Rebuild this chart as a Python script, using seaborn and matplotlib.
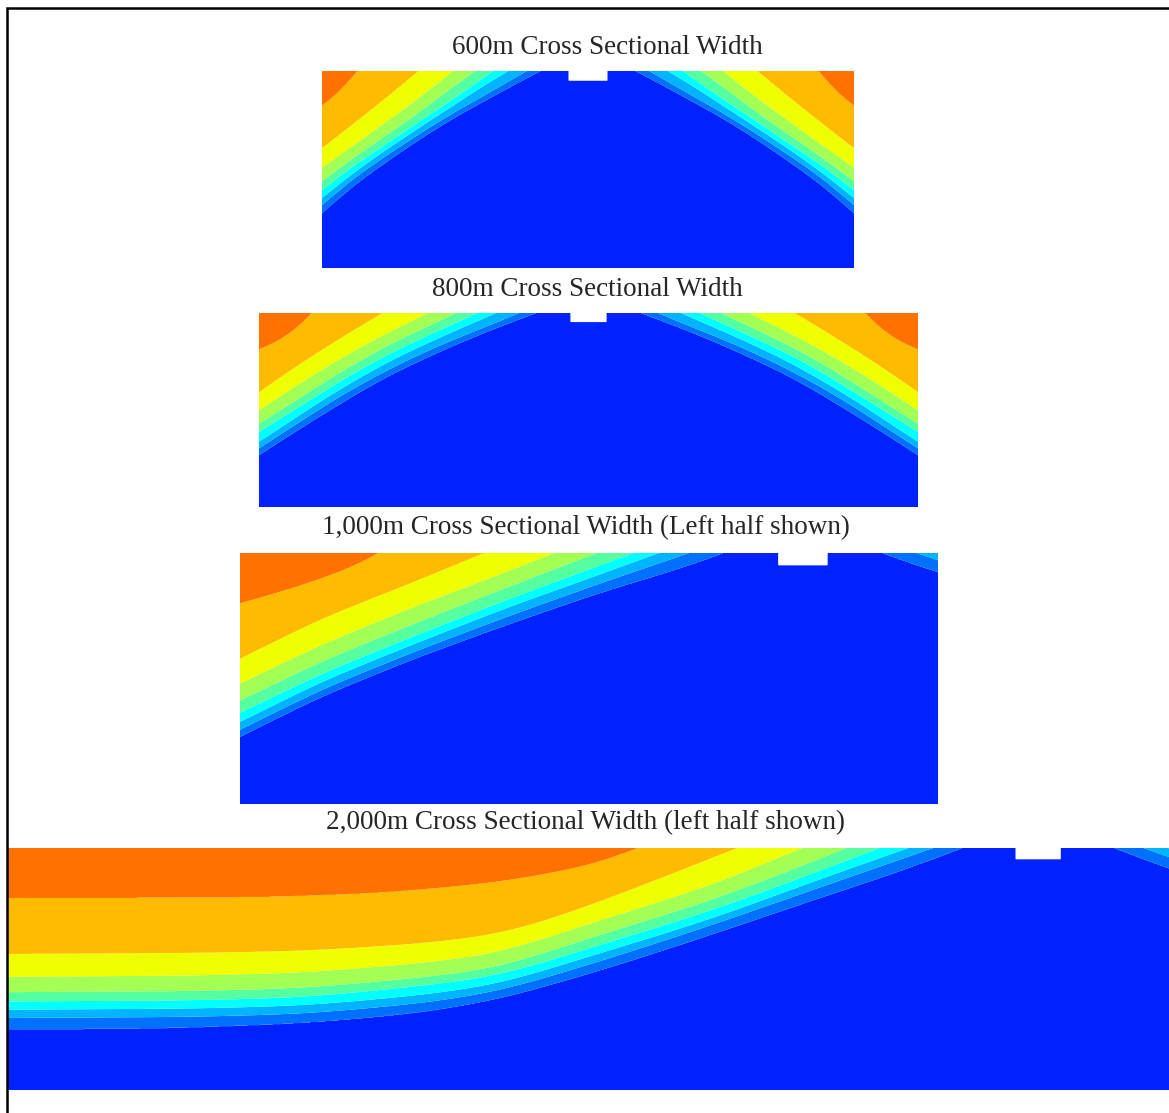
import numpy as np
import matplotlib
matplotlib.use("Agg")
import matplotlib.pyplot as plt
from matplotlib.patches import Rectangle
import seaborn as sns

sns.set_theme(style="white")
plt.rcParams["font.family"] = ["Liberation Serif", "DejaVu Serif"]

# Band colours, lowest value (deep blue) to highest (orange)
BAND_COLORS = ["#0022ff", "#0070ff", "#00b4ff", "#00ffff", "#55ff9f",
               "#a4ff55", "#f0ff00", "#ffbb00", "#ff7100"]

TITLES = ["600m Cross Sectional Width",
          "800m Cross Sectional Width",
          "1,000m Cross Sectional Width (Left half shown)",
          "2,000m Cross Sectional Width (left half shown)"]

# Section geometry (m): shown width, depth, symmetry axis
SHOWN_WIDTH = [600, 800, 620, 1127]
SECTION_DEPTH = [222, 235, 223, 235]
SYMMETRY_AXIS = [300, 400, 500, 1000]
NOTCH_WIDTH = 44
NOTCH_DEPTH = 11

# Contour boundaries of the left half, shallowest (orange edge) to deepest
# (blue edge): horizontal position x (m) and depth d (m) along each line.
W600_X = [[41, 32, 17, 0],
          [109, 73, 35, 0],
          [148, 111, 73, 35, 0],
          [173, 148, 111, 73, 35, 0],
          [193, 148, 111, 73, 35, 0],
          [210, 186, 148, 111, 73, 35, 0],
          [231, 186, 148, 111, 73, 35, 0],
          [246, 223, 186, 148, 111, 73, 35, 0]]
W600_D = [[0, 12, 29, 40],
          [0, 30, 60, 87],
          [0, 29, 57, 84, 109],
          [0, 17, 46, 72, 98, 124],
          [0, 32, 56, 82, 107, 134],
          [0, 14, 39, 63, 88, 115, 143],
          [0, 26, 47, 70, 95, 121, 151],
          [0, 12, 32, 53, 76, 102, 129, 160]]

W800_X = [[67, 57, 37, 17, 0],
          [150, 118, 77, 37, 0],
          [205, 158, 118, 77, 37, 0],
          [239, 199, 158, 118, 77, 37, 0],
          [265, 239, 199, 158, 118, 77, 37, 0],
          [288, 239, 199, 158, 118, 77, 37, 0],
          [316, 280, 239, 199, 158, 118, 77, 37, 0],
          [336, 280, 239, 199, 158, 118, 77, 37, 0]]
W800_D = [[0, 13, 29, 39, 45],
          [0, 19, 44, 70, 96],
          [0, 23, 44, 68, 93, 118],
          [0, 19, 38, 60, 85, 111, 134],
          [0, 12, 30, 49, 71, 96, 121, 144],
          [0, 21, 39, 58, 81, 105, 132, 156],
          [0, 15, 31, 48, 68, 89, 114, 140, 164],
          [0, 21, 38, 56, 75, 98, 123, 148, 172]]

W1000_X = [[124, 105, 73, 32, 0],
           [217, 154, 73, 0],
           [279, 236, 154, 73, 0],
           [317, 236, 154, 73, 0],
           [350, 317, 236, 154, 73, 0],
           [372, 317, 236, 154, 73, 0],
           [399, 317, 236, 154, 73, 0],
           [429, 399, 317, 236, 154, 73, 0]]
W1000_D = [[0, 11, 23, 36, 45],
           [0, 26, 58, 94],
           [0, 17, 48, 81, 116],
           [0, 31, 63, 96, 131],
           [0, 12, 42, 74, 107, 142],
           [0, 20, 49, 81, 114, 150],
           [0, 28, 57, 88, 121, 157],
           [0, 11, 36, 64, 94, 127, 163]]

W2000_X = [[0, 250, 364, 474, 574, 613],
           [0, 180, 290, 400, 475, 525, 575, 645, 708],
           [0, 180, 289, 401, 475, 575, 680, 771],
           [0, 180, 289, 401, 475, 575, 680, 786, 814],
           [0, 180, 289, 401, 475, 575, 680, 786, 846],
           [0, 180, 289, 401, 475, 575, 680, 786, 874],
           [0, 180, 289, 401, 475, 575, 680, 786, 874, 898],
           [0, 150, 289, 401, 475, 575, 680, 786, 874, 926]]
W2000_D = [[49, 48, 44, 34, 16.5, 0],
           [103, 102, 100, 93, 85, 70, 52, 25, 0],
           [125, 124, 121, 112, 103, 70, 37.5, 0],
           [140, 139, 136, 126, 117, 84, 52, 11.6, 0],
           [149, 148, 145, 134, 125, 94, 62, 23, 0],
           [157, 156, 153, 143, 133, 102, 70, 31, 0],
           [165, 164, 161, 151, 140, 110, 76, 39, 8.4, 0],
           [176, 175, 170, 160, 147.5, 119, 85, 49, 20, 0]]

BOUNDARY_X = [W600_X, W800_X, W1000_X, W2000_X]
BOUNDARY_D = [W600_D, W800_D, W1000_D, W2000_D]

# Axes placement in pixels of the 1169 x 1113 canvas: left, top, right, bottom
PANEL_BOX = [(322, 71, 854, 268), (259, 313, 918, 507),
             (240, 553, 938, 804), (8, 848, 1169, 1090)]
TITLE_POS = [(607, 48), (587, 290), (586, 528), (586, 823)]

W_PX, H_PX = 1169, 1113


def extrap_interp(u, xs, ds):
    """Linear interpolation that continues the end segments outward."""
    xs = np.asarray(xs, float)
    ds = np.asarray(ds, float)
    o = np.argsort(xs)
    xs, ds = xs[o], ds[o]
    d = np.interp(u, xs, ds)
    lo, hi = u < xs[0], u > xs[-1]
    s0 = (ds[1] - ds[0]) / (xs[1] - xs[0])
    s1 = (ds[-1] - ds[-2]) / (xs[-1] - xs[-2])
    d[lo] = ds[0] + s0 * (u[lo] - xs[0])
    d[hi] = ds[-1] + s1 * (u[hi] - xs[-1])
    return d


def smooth_line(xs, ds, u, sigma):
    """Boundary depth on grid u, rounded off with a gaussian along x."""
    step = u[1] - u[0]
    k = int(np.ceil(3 * sigma / step))
    up = np.r_[u[0] - step * np.arange(k, 0, -1), u, u[-1] + step * np.arange(1, k + 1)]
    d = extrap_interp(up, xs, ds)
    kern = np.exp(-0.5 * (np.arange(-k, k + 1) * step / sigma) ** 2)
    kern /= kern.sum()
    return np.convolve(d, kern, mode="valid")


def band_field(xg, dg, xs_list, ds_list, axis_x, sigma):
    """Field whose integer levels sit on the given boundary lines."""
    u = np.linspace(0, axis_x, int(axis_x * 2) + 1)
    xm = np.minimum(xg, 2 * axis_x - xg)  # mirror the right half
    depths = [np.interp(xm, u, smooth_line(xs, ds, u, sigma))
              for xs, ds in zip(xs_list, ds_list)]
    D = np.sort(np.array(depths), axis=0)
    n = D.shape[0]
    vals = np.r_[n + 1, np.arange(n, 0, -1), 0].astype(float)
    Z = np.empty((dg.size, xg.size))
    for j in range(xg.size):
        Z[:, j] = np.interp(dg, np.r_[-1e4, D[:, j], 1e4], vals)
    return Z


fig = plt.figure(figsize=(W_PX / 100, H_PX / 100), dpi=100)

for i in range(4):
    l, t, r, b = PANEL_BOX[i]
    ax = fig.add_axes([l / W_PX, 1 - b / H_PX, (r - l) / W_PX, (b - t) / H_PX])
    xg = np.linspace(0, SHOWN_WIDTH[i], int(SHOWN_WIDTH[i] * 2) + 1)
    dg = np.linspace(0, SECTION_DEPTH[i], int(SECTION_DEPTH[i] * 2) + 1)
    sigma = 0.03 * SHOWN_WIDTH[i]
    Z = band_field(xg, dg, BOUNDARY_X[i], BOUNDARY_D[i], SYMMETRY_AXIS[i], sigma)
    notch = (dg[:, None] < NOTCH_DEPTH) & \
            (np.abs(xg[None, :] - SYMMETRY_AXIS[i]) < NOTCH_WIDTH / 2)
    Z = np.ma.masked_where(notch, Z)
    ax.contourf(xg, dg, Z, levels=np.arange(0, len(BAND_COLORS) + 1),
                colors=BAND_COLORS, antialiased=True)
    ax.set_xlim(0, SHOWN_WIDTH[i])
    ax.set_ylim(SECTION_DEPTH[i], 0)
    ax.axis("off")
    tx, ty = TITLE_POS[i]
    fig.text(tx / W_PX, 1 - ty / H_PX, TITLES[i], ha="center", va="center",
             fontsize=19.5, color="#262626")

# outer frame
fig.add_artist(Rectangle((7 / W_PX, -0.05), 1.2, 1.05 - 8 / H_PX,
                         transform=fig.transFigure, fill=False,
                         edgecolor="black", linewidth=1.8))

fig.savefig("out.png", dpi=100, facecolor="white")
